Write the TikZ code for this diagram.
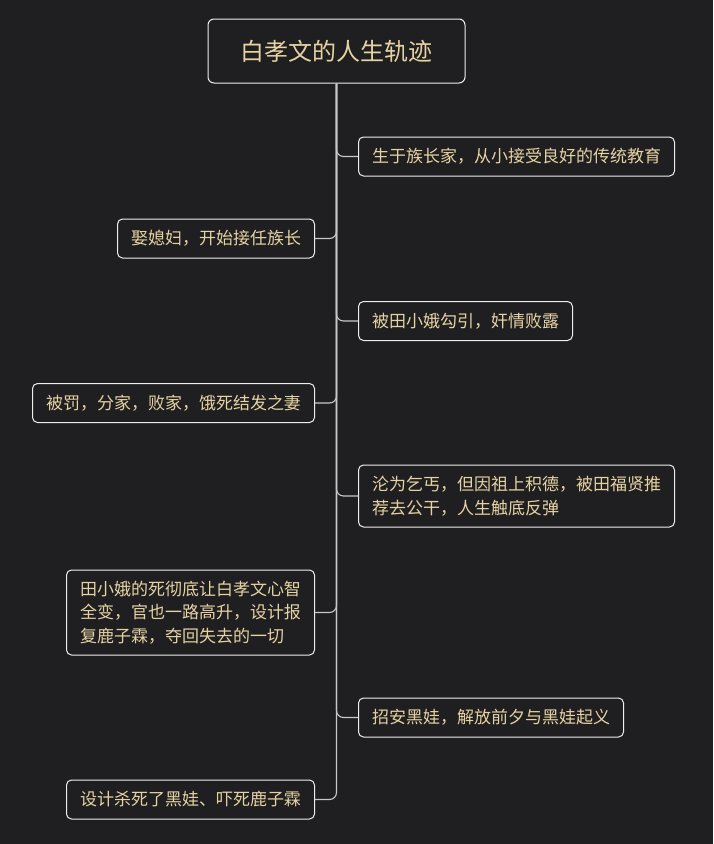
\documentclass[tikz,border=0pt]{standalone}
\usepackage{fontspec}
\setmainfont{Noto Sans CJK SC}
\definecolor{bg}{HTML}{1F1F21}
\definecolor{txt}{HTML}{E6D3A3}
\definecolor{edge}{HTML}{EEEEEE}
\definecolor{conn}{HTML}{C8C8C8}
\begin{document}
\begin{tikzpicture}[x=1pt,y=1pt,
  topic/.style={draw=edge, line width=1pt, rounded corners=6pt, fill=bg, text=txt,
    font=\fontsize{24}{28}\selectfont, minimum width=257pt, minimum height=64pt, inner sep=0pt},
  item/.style={draw=edge, line width=1pt, rounded corners=5pt, fill=bg, text=txt,
    font=\fontsize{17}{23.5}\selectfont, align=left, inner xsep=13.5pt, inner ysep=0pt,
    minimum height=39pt},
  link/.style={draw=conn, line width=1.1pt, rounded corners=7pt}]
\fill[bg] (0,0) rectangle (713,-844);
\useasboundingbox (0,0) rectangle (713,-844);
\node[topic] (t) at (336.5,-51) {白孝文的人生轨迹};
\node[item, anchor=west] (r1) at (358,-156.5) {生于族长家，从小接受良好的传统教育};
\node[item, anchor=east] (l1) at (315,-238.5) {娶媳妇，开始接任族长};
\node[item, anchor=west] (r2) at (358,-321) {被田小娥勾引，奸情败露};
\node[item, anchor=east] (l2) at (315,-403) {被罚，分家，败家，饿死结发之妻};
\node[item, anchor=west, minimum height=62pt] (r3) at (358,-496) {沦为乞丐，但因祖上积德，被田福贤推\\荐去公干，人生触底反弹};
\node[item, anchor=east, minimum height=85pt] (l3) at (315,-612.5) {田小娥的死彻底让白孝文心智\\全变，官也一路高升，设计报\\复鹿子霖，夺回失去的一切};
\node[item, anchor=west] (r4) at (358,-717.5) {招安黑娃，解放前夕与黑娃起义};
\node[item, anchor=east] (l4) at (315,-799.5) {设计杀死了黑娃、吓死鹿子霖};
\foreach \n in {r1,r2,r3,r4} \draw[link] (t.south) |- (\n.west);
\foreach \n in {l1,l2,l3,l4} \draw[link] (t.south) |- (\n.east);
\end{tikzpicture}
\end{document}
